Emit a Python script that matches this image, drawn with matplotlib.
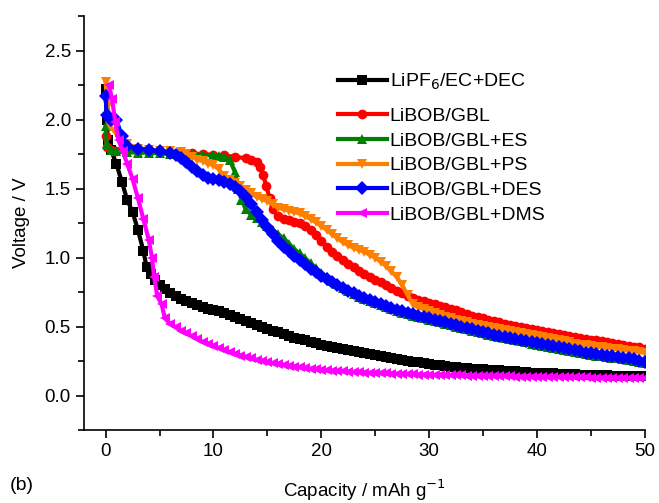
import matplotlib.pyplot as plt
from matplotlib.ticker import MultipleLocator

# ---- discharge curves: capacity (mAh/g) vs voltage (V) ----
# tail part (20 ... 50 mAh/g) shares one capacity grid
tail_x = [20, 20.5, 21, 21.5, 22, 22.5, 23, 23.5, 24, 24.5, 25, 25.5, 26, 26.5, 27, 27.5, 28, 28.5, 29, 29.5,
          30, 30.5, 31, 31.5, 32, 32.5, 33, 33.5, 34, 34.5, 35, 35.5, 36, 36.5, 37, 37.5, 38, 38.5, 39, 39.5,
          40, 40.5, 41, 41.5, 42, 42.5, 43, 43.5, 44, 44.5, 45, 45.5, 46, 46.5, 47, 47.5, 48, 48.5, 49, 49.5, 50]

black_x = [0, 0.1, 0.2, 0.5, 1, 1.5, 2, 2.5, 3, 3.5, 3.8, 4.2, 4.6, 5, 5.5, 6, 6.5, 7, 7.5, 8, 8.5, 9, 9.5, 10,
           10.5, 11, 11.5, 12, 12.5, 13, 13.5, 14, 14.5, 15, 15.5, 16, 16.5, 17, 17.5, 18, 18.5, 19, 19.5] + tail_x
black_y = [2.22, 2.0, 1.85, 1.78, 1.68, 1.55, 1.42, 1.33, 1.2, 1.05, 0.93, 0.88, 0.84,
           0.80, 0.77, 0.74, 0.72, 0.70, 0.685, 0.67, 0.655, 0.64, 0.63, 0.62,
           0.61, 0.60, 0.585, 0.57, 0.555, 0.54, 0.525, 0.51, 0.495, 0.48,
           0.47, 0.46, 0.445, 0.43, 0.42, 0.41, 0.40, 0.39, 0.38,
           0.37, 0.362, 0.355, 0.347, 0.34, 0.332, 0.325, 0.317, 0.31, 0.302, 0.295, 0.287, 0.28, 0.272, 0.265,
           0.257, 0.25, 0.245, 0.24, 0.235, 0.23,
           0.225, 0.22, 0.215, 0.21, 0.205, 0.2, 0.197, 0.195, 0.192, 0.19,
           0.187, 0.185, 0.182, 0.18, 0.177, 0.175, 0.172, 0.17, 0.167, 0.165,
           0.163, 0.162, 0.16, 0.158, 0.157, 0.155, 0.153, 0.152, 0.151, 0.15,
           0.149, 0.147, 0.146, 0.145, 0.144, 0.143, 0.142, 0.141, 0.1405, 0.14]

red_x = [0, 0.1, 0.5, 1, 2, 3, 4, 5, 6, 7, 8, 9, 10, 11, 12, 13, 13.5, 14, 14.3, 14.6, 14.9, 15.2, 15.5,
         16, 16.5, 17, 17.5, 18, 18.5, 19, 19.5] + tail_x
red_y = [1.88, 1.8, 1.78, 1.775, 1.77, 1.77, 1.765, 1.765, 1.76, 1.76, 1.755, 1.75, 1.745, 1.74, 1.73, 1.72,
         1.71, 1.69, 1.66, 1.6, 1.52, 1.43, 1.35,
         1.30, 1.28, 1.27, 1.26, 1.25, 1.23, 1.20, 1.16,
         1.12, 1.08, 1.04, 1.01, 0.98, 0.955, 0.93, 0.905, 0.88, 0.86, 0.84, 0.82, 0.80, 0.78, 0.76, 0.74, 0.72,
         0.705, 0.695, 0.682, 0.67,
         0.66, 0.65, 0.64, 0.63, 0.618, 0.605, 0.593, 0.58, 0.57, 0.56,
         0.55, 0.54, 0.53, 0.522, 0.515, 0.507, 0.50, 0.492, 0.485, 0.477,
         0.47, 0.462, 0.455, 0.447, 0.44, 0.432, 0.425, 0.417, 0.41, 0.405,
         0.40, 0.395, 0.39, 0.382, 0.375, 0.367, 0.36, 0.355, 0.35, 0.34]

green_x = [0, 0.1, 0.5, 1, 2, 3, 4, 5, 6, 7, 8, 9, 10, 10.5, 11, 11.5, 12, 12.3, 12.6, 13, 13.5, 14, 14.5, 15,
           15.5, 16, 16.5, 17, 17.5, 18, 18.5, 19, 19.5] + tail_x
green_y = [1.95, 1.82, 1.78, 1.77, 1.765, 1.76, 1.76, 1.755, 1.75, 1.75, 1.75, 1.745, 1.74, 1.735, 1.73, 1.71,
           1.62, 1.5, 1.42, 1.35, 1.31, 1.29, 1.26, 1.23, 1.2, 1.17, 1.14, 1.1, 1.06, 1.03, 0.995, 0.96, 0.925,
           0.89, 0.86, 0.83, 0.805, 0.78, 0.755, 0.735, 0.715, 0.70, 0.685, 0.67, 0.655, 0.64, 0.625, 0.61, 0.60,
           0.59, 0.58, 0.57, 0.56, 0.55,
           0.54, 0.53, 0.52, 0.51, 0.50, 0.49, 0.48, 0.47, 0.46, 0.45,
           0.44, 0.43, 0.422, 0.415, 0.407, 0.40, 0.392, 0.385, 0.377, 0.37,
           0.362, 0.355, 0.347, 0.34, 0.332, 0.325, 0.317, 0.31, 0.302, 0.295,
           0.29, 0.285, 0.28, 0.275, 0.27, 0.265, 0.26, 0.252, 0.243, 0.235]

orange_x = [0, 0.2, 0.4, 1, 1.5, 2, 3, 4, 5, 6, 7, 7.5, 8, 8.5, 9, 9.5, 10, 10.5, 11, 11.5, 12, 12.5, 13,
            13.5, 14, 14.5, 15, 15.5, 16, 16.5, 17, 17.5, 18, 18.5, 19, 19.5] + tail_x
orange_y = [2.27, 2.1, 1.95, 1.9, 1.87, 1.82, 1.79, 1.78, 1.775, 1.77, 1.765, 1.75, 1.73, 1.71, 1.7, 1.68, 1.67,
            1.64, 1.59, 1.56, 1.54, 1.52, 1.49,
            1.465, 1.44, 1.425, 1.41, 1.385, 1.36, 1.35, 1.34, 1.33, 1.32, 1.30, 1.28, 1.255,
            1.23, 1.2, 1.17, 1.14, 1.11, 1.09, 1.07, 1.055, 1.04, 1.02, 1.0, 0.97, 0.94, 0.9, 0.86, 0.8, 0.73,
            0.66, 0.64, 0.625, 0.61,
            0.597, 0.585, 0.572, 0.56, 0.55, 0.54, 0.53, 0.52, 0.512, 0.505,
            0.497, 0.49, 0.482, 0.475, 0.467, 0.46, 0.452, 0.445, 0.437, 0.43,
            0.422, 0.415, 0.407, 0.40, 0.392, 0.385, 0.377, 0.37, 0.365, 0.36,
            0.355, 0.35, 0.345, 0.34, 0.335, 0.33, 0.325, 0.32, 0.315, 0.31]

blue_x = [0, 0.1, 0.5, 1, 1.5, 2, 3, 4, 5, 6, 6.5, 7, 7.5, 8, 8.5, 9, 9.5, 10, 10.5, 11, 11.5, 12, 12.5, 13,
          13.5, 14, 14.5, 15, 15.5, 16, 16.5, 17, 17.5, 18, 18.5, 19, 19.5] + tail_x
blue_y = [2.17, 2.03, 2.0, 2.0, 1.88, 1.81, 1.79, 1.78, 1.77, 1.76, 1.74, 1.72, 1.69, 1.66, 1.63, 1.60, 1.58,
          1.57, 1.56, 1.55, 1.53, 1.51, 1.48, 1.44, 1.39, 1.33, 1.27, 1.22, 1.17, 1.12, 1.08, 1.05,
          1.015, 0.98, 0.95, 0.92, 0.895,
          0.87, 0.845, 0.82, 0.80, 0.78, 0.76, 0.74, 0.725, 0.71, 0.695, 0.68, 0.665, 0.65, 0.635, 0.62, 0.61,
          0.60, 0.59, 0.58, 0.57, 0.56,
          0.55, 0.54, 0.53, 0.52, 0.51, 0.50, 0.49, 0.48, 0.47, 0.46,
          0.45, 0.44, 0.432, 0.425, 0.417, 0.41, 0.402, 0.395, 0.387, 0.38,
          0.372, 0.365, 0.357, 0.35, 0.342, 0.335, 0.327, 0.32, 0.312, 0.305,
          0.3, 0.295, 0.29, 0.285, 0.28, 0.275, 0.27, 0.262, 0.253, 0.245]

magenta_x = [0.3, 0.6, 0.9, 1.2, 1.6, 2, 2.5, 3, 3.5, 4, 4.3, 4.5, 4.8, 5.2, 5.5, 6, 6.5, 7, 7.5, 8, 8.5, 9,
             9.5, 10, 10.5, 11, 11.5, 12, 12.5, 13, 13.5, 14, 14.5, 15, 15.5, 16, 16.5, 17, 17.5, 18, 18.5, 19,
             19.5] + tail_x
magenta_y = [2.25, 2.15, 1.98, 1.85, 1.77, 1.68, 1.57, 1.43, 1.28, 1.13, 1.0, 0.86, 0.72, 0.66, 0.56,
             0.52, 0.495, 0.47, 0.45, 0.43, 0.41, 0.39, 0.375, 0.36,
             0.345, 0.33, 0.315, 0.30, 0.29, 0.28, 0.27, 0.26, 0.25, 0.24,
             0.235, 0.23, 0.222, 0.215, 0.21, 0.205, 0.2, 0.195, 0.19,
             0.185, 0.182, 0.18, 0.177, 0.175, 0.172, 0.17, 0.168, 0.165, 0.164, 0.162, 0.161, 0.16, 0.159, 0.157,
             0.156, 0.155, 0.154, 0.152, 0.151, 0.15,
             0.149, 0.148, 0.148, 0.147, 0.146, 0.146, 0.145, 0.144, 0.143, 0.142,
             0.142, 0.141, 0.14, 0.14, 0.139, 0.138, 0.138, 0.137, 0.136, 0.135,
             0.135, 0.134, 0.134, 0.133, 0.133, 0.132, 0.132, 0.131, 0.131, 0.13,
             0.13, 0.129, 0.129, 0.128, 0.128, 0.127, 0.127, 0.126, 0.126, 0.125]

labels = ['LiPF$_6$/EC+DEC', 'LiBOB/GBL', 'LiBOB/GBL+ES', 'LiBOB/GBL+PS', 'LiBOB/GBL+DES', 'LiBOB/GBL+DMS']
colors = ['#000000', '#FF0000', '#008000', '#FF8000', '#0000FF', '#FF00FF']
markers = ['s', 'o', '^', 'v', 'D', '<']

plt.rcParams['font.family'] = ['Liberation Sans', 'DejaVu Sans']

fig = plt.figure(figsize=(6.59, 5.03), dpi=100)
ax = fig.add_axes([0.1275, 0.145, 0.851, 0.823])

series = [(black_x, black_y), (red_x, red_y), (green_x, green_y),
          (orange_x, orange_y), (blue_x, blue_y), (magenta_x, magenta_y)]
lines = []
for (xs, ys), lab, c, m in zip(series, labels, colors, markers):
    ln, = ax.plot(xs, ys, color=c, marker=m, markersize=7, markeredgewidth=0, linewidth=3, label=lab)
    lines.append(ln)

ax.set_xlim(-2, 50)
ax.set_ylim(-0.25, 2.75)
ax.xaxis.set_major_locator(MultipleLocator(10))
ax.xaxis.set_minor_locator(MultipleLocator(5))
ax.yaxis.set_major_locator(MultipleLocator(0.5))
ax.yaxis.set_minor_locator(MultipleLocator(0.25))
ax.tick_params(which='major', direction='out', length=6, width=1.2, labelsize=13.5)
ax.tick_params(which='minor', direction='out', length=4, width=1.2)

ax.spines['top'].set_visible(False)
ax.spines['right'].set_visible(False)
ax.spines['left'].set_linewidth(1.2)
ax.spines['bottom'].set_linewidth(1.2)

ax.set_ylabel('Voltage / V', fontsize=13.5)
ax.set_xlabel('Capacity / mAh g$^{-1}$', fontsize=13.5)
ax.yaxis.set_label_coords(-0.097, 0.5)
ax.xaxis.set_label_coords(0.5, -0.114)

# legend: first entry sits apart from the other five
leg_kw = dict(frameon=False, loc='upper left', fontsize=14, borderaxespad=0, borderpad=0,
              handlelength=2.5, handletextpad=0.15, labelspacing=0.37)
leg1 = ax.legend(lines[:1], labels[:1], bbox_to_anchor=(0.453, 0.865), **leg_kw)
ax.add_artist(leg1)
ax.legend(lines[1:], labels[1:], bbox_to_anchor=(0.453, 0.780), **leg_kw)

fig.text(0.015, 0.025, '(b)', fontsize=14)

fig.savefig('out.png', dpi=100)
